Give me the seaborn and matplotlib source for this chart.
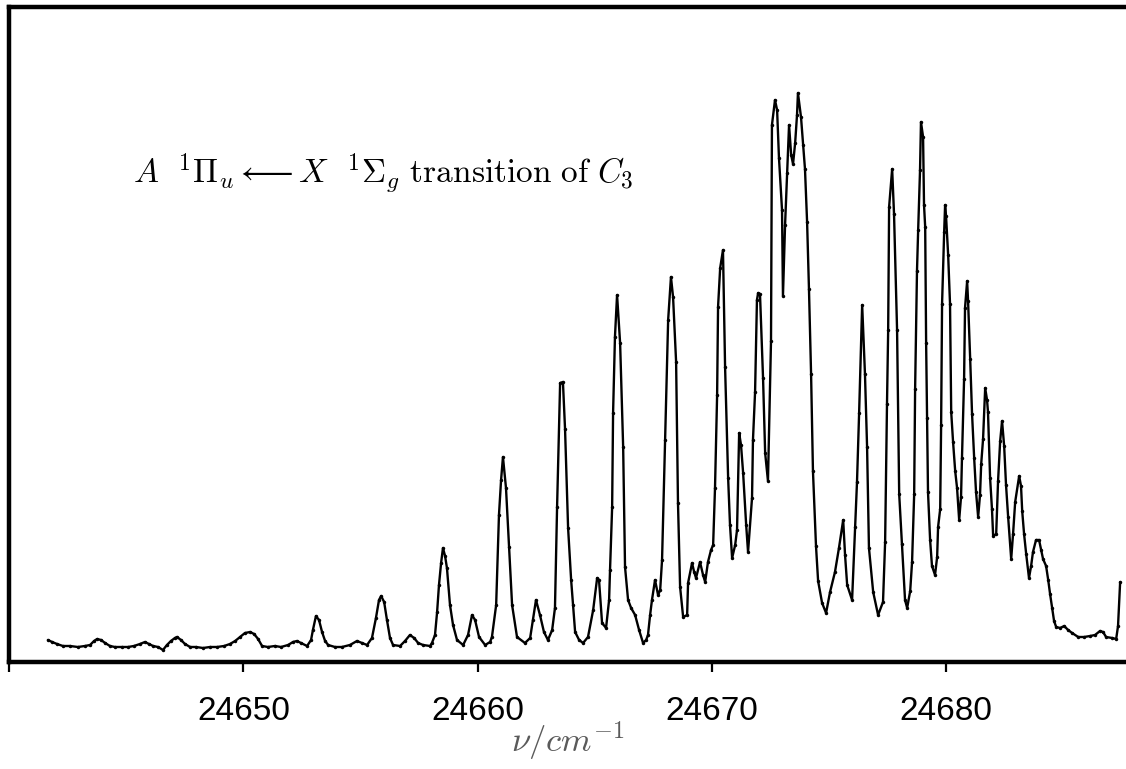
import matplotlib
matplotlib.use("Agg")
import matplotlib.pyplot as plt
import seaborn as sns
import pandas as pd

# Wavenumber (cm^-1) of each sample of the recorded spectrum
wavenumber = [
    24641.66, 24641.84, 24642.05, 24642.30, 24642.60, 24642.94, 24643.24, 24643.46,
    24643.63, 24643.76, 24643.93, 24644.10, 24644.31, 24644.52, 24644.82, 24645.08,
    24645.33, 24645.59, 24645.80, 24645.98, 24646.15, 24646.36, 24646.57, 24646.74,
    24646.91, 24647.08, 24647.17, 24647.34, 24647.51, 24647.73, 24647.98, 24648.28,
    24648.58, 24648.88, 24649.18, 24649.43, 24649.65, 24649.86, 24650.07, 24650.29,
    24650.46, 24650.63, 24650.80, 24651.05, 24651.35, 24651.61, 24651.91, 24652.12,
    24652.29, 24652.46, 24652.72, 24652.89, 24652.97, 24653.10, 24653.23, 24653.36,
    24653.49, 24653.62, 24653.91, 24654.21, 24654.55, 24654.85, 24655.07, 24655.28,
    24655.49, 24655.66, 24655.79, 24655.88, 24656.01, 24656.13, 24656.26, 24656.39,
    24656.69, 24656.90, 24657.11, 24657.29, 24657.46, 24657.67, 24657.97, 24658.05,
    24658.18, 24658.27, 24658.35, 24658.44, 24658.52, 24658.61, 24658.69, 24658.82,
    24658.95, 24659.12, 24659.38, 24659.59, 24659.76, 24659.89, 24660.06, 24660.32,
    24660.53, 24660.61, 24660.79, 24660.91, 24661.00, 24661.08, 24661.21, 24661.34,
    24661.47, 24661.68, 24662.02, 24662.24, 24662.36, 24662.49, 24662.66, 24662.83,
    24663.00, 24663.18, 24663.30, 24663.39, 24663.52, 24663.64, 24663.73, 24663.86,
    24663.99, 24664.07, 24664.16, 24664.33, 24664.50, 24664.71, 24664.93, 24665.10,
    24665.18, 24665.31, 24665.48, 24665.61, 24665.65, 24665.74, 24665.78, 24665.86,
    24665.95, 24666.08, 24666.21, 24666.29, 24666.42, 24666.55, 24666.72, 24666.89,
    24667.06, 24667.19, 24667.27, 24667.36, 24667.44, 24667.57, 24667.70, 24667.79,
    24667.87, 24668.00, 24668.13, 24668.25, 24668.34, 24668.47, 24668.55, 24668.64,
    24668.77, 24668.94, 24668.98, 24669.15, 24669.24, 24669.32, 24669.49, 24669.62,
    24669.71, 24669.83, 24669.96, 24670.05, 24670.13, 24670.22, 24670.26, 24670.35,
    24670.47, 24670.56, 24670.69, 24670.77, 24670.86, 24670.99, 24671.07, 24671.16,
    24671.24, 24671.33, 24671.46, 24671.54, 24671.71, 24671.75, 24671.84, 24671.92,
    24671.97, 24672.05, 24672.18, 24672.27, 24672.39, 24672.52, 24672.56, 24672.69,
    24672.78, 24672.86, 24672.99, 24673.03, 24673.12, 24673.21, 24673.29, 24673.38,
    24673.46, 24673.55, 24673.63, 24673.67, 24673.80, 24673.89, 24673.97, 24674.06,
    24674.14, 24674.23, 24674.31, 24674.44, 24674.53, 24674.70, 24674.87, 24675.04,
    24675.25, 24675.42, 24675.60, 24675.68, 24675.77, 24675.98, 24676.11, 24676.19,
    24676.28, 24676.41, 24676.53, 24676.62, 24676.70, 24676.88, 24677.09, 24677.30,
    24677.39, 24677.47, 24677.52, 24677.56, 24677.69, 24677.77, 24677.90, 24677.99,
    24678.11, 24678.24, 24678.33, 24678.46, 24678.54, 24678.63, 24678.67, 24678.75,
    24678.80, 24678.88, 24678.92, 24679.01, 24679.05, 24679.10, 24679.14, 24679.18,
    24679.22, 24679.31, 24679.39, 24679.52, 24679.61, 24679.65, 24679.74, 24679.78,
    24679.82, 24679.91, 24679.95, 24679.99, 24680.08, 24680.16, 24680.21, 24680.29,
    24680.38, 24680.46, 24680.55, 24680.63, 24680.67, 24680.76, 24680.80, 24680.89,
    24680.93, 24681.02, 24681.10, 24681.19, 24681.27, 24681.36, 24681.44, 24681.49,
    24681.57, 24681.66, 24681.74, 24681.78, 24681.87, 24681.95, 24682.00, 24682.13,
    24682.21, 24682.30, 24682.38, 24682.47, 24682.55, 24682.64, 24682.77, 24682.85,
    24682.94, 24683.11, 24683.19, 24683.24, 24683.32, 24683.41, 24683.53, 24683.62,
    24683.70, 24683.83, 24683.96, 24684.05, 24684.13, 24684.26, 24684.35, 24684.43,
    24684.52, 24684.60, 24684.69, 24684.86, 24685.03, 24685.20, 24685.37, 24685.63,
    24685.88, 24686.14, 24686.35, 24686.56, 24686.69, 24686.82, 24687.08, 24687.25,
    24687.33, 24687.42,
]

# Signal (arbitrary units) at each wavenumber
intensity = [
    22, 20, 18, 16, 16, 15, 16, 17,
    21, 23, 22, 19, 16, 15, 15, 15,
    16, 18, 20, 18, 16, 15, 12, 17,
    21, 24, 25, 22, 18, 15, 15, 14,
    15, 15, 16, 18, 21, 25, 29, 30,
    28, 23, 16, 15, 16, 15, 17, 20,
    21, 19, 16, 22, 32, 46, 42, 30,
    21, 17, 15, 15, 17, 21, 19, 17,
    24, 44, 62, 66, 60, 42, 24, 17,
    16, 21, 27, 24, 19, 17, 16, 19,
    27, 50, 77, 99, 114, 106, 94, 57,
    37, 22, 17, 27, 47, 42, 25, 17,
    20, 25, 57, 147, 182, 205, 174, 115,
    57, 25, 19, 24, 42, 62, 47, 30,
    22, 32, 54, 155, 279, 280, 233, 134,
    82, 57, 30, 22, 19, 25, 52, 84,
    82, 39, 34, 62, 92, 155, 249, 325,
    367, 319, 215, 95, 62, 54, 47, 32,
    19, 22, 27, 47, 62, 82, 67, 72,
    102, 222, 342, 385, 365, 300, 159, 75,
    45, 47, 79, 99, 90, 84, 100, 87,
    80, 100, 112, 117, 174, 267, 355, 394,
    412, 295, 184, 137, 104, 117, 132, 229,
    217, 189, 137, 110, 164, 222, 270, 362,
    369, 368, 284, 209, 181, 321, 537, 562,
    552, 504, 452, 366, 437, 489, 537, 507,
    498, 519, 547, 569, 545, 517, 493, 440,
    373, 288, 191, 116, 81, 59, 49, 70,
    90, 114, 142, 107, 77, 62, 135, 180,
    249, 357, 288, 215, 114, 70, 47, 60,
    120, 258, 332, 455, 493, 448, 332, 168,
    118, 62, 54, 71, 100, 168, 273, 391,
    432, 492, 540, 525, 457, 435, 319, 244,
    170, 122, 96, 87, 105, 135, 153, 237,
    358, 430, 457, 446, 407, 358, 250, 220,
    191, 174, 142, 165, 204, 283, 354, 381,
    361, 303, 248, 204, 170, 145, 167, 198,
    223, 274, 262, 250, 184, 153, 126, 128,
    181, 221, 241, 216, 177, 145, 103, 128,
    160, 186, 176, 151, 128, 108, 84, 96,
    110, 122, 122, 112, 103, 96, 82, 68,
    54, 41, 35, 34, 36, 32, 29, 25,
    25, 26, 27, 31, 30, 25, 24, 23,
    36, 80,
]

x_ticks = [24640, 24650, 24660, 24670, 24680]
x_tick_labels = ["", "24650", "24660", "24670", "24680"]

sns.set_style("white")
plt.rcParams["font.family"] = ["Liberation Sans", "DejaVu Sans"]
plt.rcParams["mathtext.fontset"] = "cm"

spectrum = pd.DataFrame({"wavenumber": wavenumber, "intensity": intensity})

fig = plt.figure(figsize=(11.26, 7.69), dpi=100)
ax = fig.add_axes([0.008, 0.1385, 0.992, 0.8524])

sns.lineplot(
    data=spectrum, x="wavenumber", y="intensity", ax=ax,
    color="black", linewidth=1.7, estimator=None,
    marker=".", markersize=5, markeredgewidth=0,
)

ax.set_xlim(24640, 24687.67)
ax.set_ylim(-0.5, 655)
ax.set_xticks(x_ticks)
ax.set_xticklabels(x_tick_labels)
ax.set_yticks([])
ax.set_ylabel("")

for side in ("left", "top", "bottom"):
    ax.spines[side].set_visible(True)
    ax.spines[side].set_linewidth(3.2)
    ax.spines[side].set_color("black")
ax.spines["right"].set_visible(False)

ax.tick_params(axis="x", direction="out", length=7, width=1.6,
               color="black", labelcolor="black", labelsize=24, pad=17,
               bottom=True)

ax.set_xlabel(r"$\nu/cm^{-1}$", fontsize=25, color="#5a5a5a", labelpad=-5)

ax.text(0.111, 0.733,
        r"$A\ \ ^1\Pi_u \longleftarrow X\ \ ^1\Sigma_g\ \mathrm{transition\ of}\ C_3$",
        transform=ax.transAxes, fontsize=24, ha="left", va="baseline",
        color="black")

fig.savefig("out.png", dpi=100)
